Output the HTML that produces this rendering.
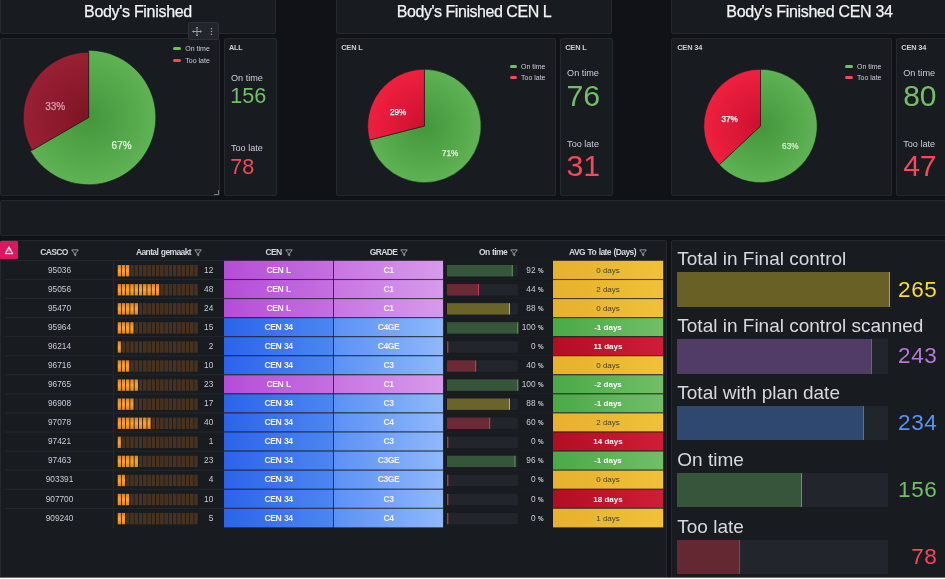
<!DOCTYPE html>
<html><head><meta charset="utf-8"><title>Body's Finished</title>
<style>
html,body{margin:0;padding:0}
body{width:945px;height:579px;overflow:hidden;background:#111217;position:relative;font-family:"Liberation Sans",sans-serif;color:#ccccdc}
.p{position:absolute;background:#181b1f;border:1px solid #25282e;box-sizing:border-box;border-radius:2px}
.a{position:absolute;white-space:nowrap}
.tt{position:absolute;left:0;right:0;text-align:center;color:#f4f4f6;font-size:16px;line-height:18px;letter-spacing:-0.3px;-webkit-text-stroke:0.25px #f4f4f6}
.pt{position:absolute;font-size:7.2px;color:#d0d1d8;font-weight:bold;letter-spacing:-0.2px}
.lg{position:absolute;font-size:7px;color:#ccccdc;white-space:nowrap}
.lg i{position:absolute;left:-12px;top:3px;width:8px;height:3px;border-radius:1px}
.sl{position:absolute;font-size:9.1px;color:#ccccdc;white-space:nowrap}
.sv{position:absolute;font-size:21px;white-space:nowrap;line-height:21px}
.th{position:absolute;top:245.5px;height:12px;font-size:8.5px;font-weight:bold;color:#d4d6de;text-align:center;line-height:12px;white-space:nowrap;letter-spacing:-0.6px;word-spacing:0.8px}
.row{position:absolute;left:5px;width:658px;height:19.1px}
.c{position:absolute;height:19px;line-height:19px;font-size:8.3px;text-align:center;color:#ccccdc;white-space:nowrap;box-sizing:border-box}
.bt{position:absolute;font-size:19px;color:#d8d9e0;white-space:nowrap;line-height:22px;left:677.3px}
.bv{position:absolute;font-size:22.5px;letter-spacing:0.6px;white-space:nowrap;line-height:24px;right:7.6px;text-align:right}
.trk{position:absolute;left:676.5px;width:211.4px;height:34.6px;background:#22252b}
.fill{position:absolute;left:0;top:0;height:34.6px;box-sizing:border-box}
</style></head><body>

<svg width="0" height="0" style="position:absolute"><defs><linearGradient id="lg" x1="0" y1="0" x2="0" y2="1"><stop offset="0" stop-color="#d9841a"/><stop offset="0.5" stop-color="#ffa530"/><stop offset="1" stop-color="#d9841a"/></linearGradient><pattern id="pl" patternUnits="userSpaceOnUse" width="4.27" height="11.6"><rect width="3.4" height="11.6" fill="url(#lg)"/></pattern><pattern id="pd" patternUnits="userSpaceOnUse" width="4.27" height="11.6"><rect width="3.4" height="11.6" fill="#48321f"/></pattern></defs></svg>
<div class="p" style="left:0;top:-8px;width:276px;height:42px"><div class="tt" style="top:9.6px">Body's Finished</div></div>
<div class="p" style="left:336px;top:-8px;width:276px;height:42px"><div class="tt" style="top:9.6px;letter-spacing:-0.46px">Body's Finished CEN L</div></div>
<div class="p" style="left:671px;top:-8px;width:280px;height:42px"><div class="tt" style="top:9.6px;right:3px">Body's Finished CEN 34</div></div>
<div class="p" style="left:0;top:38px;width:220px;height:158px"></div>
<div class="p" style="left:224px;top:38px;width:53px;height:158px"></div>
<div class="p" style="left:336px;top:38px;width:220px;height:158px"></div>
<div class="p" style="left:560px;top:38px;width:53px;height:158px"></div>
<div class="p" style="left:671px;top:38px;width:221px;height:158px"></div>
<div class="p" style="left:896px;top:38px;width:56px;height:158px"></div>
<div class="a" style="left:213.5px;top:190px;width:4px;height:4px;border-right:1px solid #7b7d86;border-bottom:1px solid #7b7d86"></div>
<div class="a" style="left:188px;top:22px;width:31px;height:18px;background:#22252b;border:1px solid #2e3138;box-sizing:border-box;border-radius:2px"></div>
<svg class="a" style="left:188px;top:22px" width="31" height="18" viewBox="0 0 31 18"><g stroke="#9a9ca6" stroke-width="1" fill="none"><path d="M4.5 9.5h9M9 5v9"/><path d="M7.8 6.2L9 5l1.2 1.2M7.8 12.8L9 14l1.2-1.2M5.7 8.3L4.5 9.5l1.2 1.2M12.3 8.3l1.2 1.2-1.2 1.2" stroke-width="0.8"/></g><g fill="#9a9ca6"><circle cx="23.5" cy="6.7" r="0.8"/><circle cx="23.5" cy="9.5" r="0.8"/><circle cx="23.5" cy="12.3" r="0.8"/></g></svg>
<svg class="a" style="left:0;top:0" width="945" height="200" viewBox="0 0 945 200"><defs><radialGradient id="g1" gradientUnits="userSpaceOnUse" cx="88.6" cy="117.5" r="67.2"><stop offset="0" stop-color="#43963a"/><stop offset="1" stop-color="#5fb354"/></radialGradient><radialGradient id="r1" gradientUnits="userSpaceOnUse" cx="88.6" cy="117.5" r="65.3"><stop offset="0" stop-color="#7d1424"/><stop offset="1" stop-color="#9a2034"/></radialGradient></defs><path d="M88.6 117.5 L88.6 50.3 A67.2 67.2 0 1 1 30.40 151.10 Z" fill="url(#g1)" stroke="#181b1f" stroke-width="0.6"/><path d="M88.6 117.5 L32.05 150.15 A65.3 65.3 0 0 1 88.6 52.2 Z" fill="url(#r1)" stroke="#181b1f" stroke-width="0.6"/><text x="55.2" y="109.8" fill="#d2a2ab" font-size="10" text-anchor="middle" stroke="#d2a2ab" stroke-width="0.25" font-family="Liberation Sans, sans-serif">33%</text><text x="121.6" y="148.6" fill="#e4f2e2" font-size="10" text-anchor="middle" stroke="#e4f2e2" stroke-width="0.25" font-family="Liberation Sans, sans-serif">67%</text><defs><radialGradient id="g2" gradientUnits="userSpaceOnUse" cx="424.4" cy="126" r="56.7"><stop offset="0" stop-color="#43963a"/><stop offset="1" stop-color="#5fb354"/></radialGradient><radialGradient id="r2" gradientUnits="userSpaceOnUse" cx="424.4" cy="126" r="56.7"><stop offset="0" stop-color="#cc1030"/><stop offset="1" stop-color="#f0203f"/></radialGradient></defs><path d="M424.4 126 L424.4 69.3 A56.7 56.7 0 1 1 369.46 140.00 Z" fill="url(#g2)" stroke="#181b1f" stroke-width="0.6"/><path d="M424.4 126 L369.46 140.00 A56.7 56.7 0 0 1 424.4 69.3 Z" fill="url(#r2)" stroke="#181b1f" stroke-width="0.6"/><text x="398.2" y="115.4" fill="#ffffff" font-size="8.2" text-anchor="middle" stroke="#ffffff" stroke-width="0.25" font-family="Liberation Sans, sans-serif">29%</text><text x="450.2" y="155.8" fill="#e4f2e2" font-size="8.2" text-anchor="middle" stroke="#e4f2e2" stroke-width="0.25" font-family="Liberation Sans, sans-serif">71%</text><defs><radialGradient id="g3" gradientUnits="userSpaceOnUse" cx="760.5" cy="126" r="56.7"><stop offset="0" stop-color="#43963a"/><stop offset="1" stop-color="#5fb354"/></radialGradient><radialGradient id="r3" gradientUnits="userSpaceOnUse" cx="760.5" cy="126" r="56.7"><stop offset="0" stop-color="#cc1030"/><stop offset="1" stop-color="#f0203f"/></radialGradient></defs><path d="M760.5 126 L760.5 69.3 A56.7 56.7 0 1 1 719.19 164.83 Z" fill="url(#g3)" stroke="#181b1f" stroke-width="0.6"/><path d="M760.5 126 L719.19 164.83 A56.7 56.7 0 0 1 760.5 69.3 Z" fill="url(#r3)" stroke="#181b1f" stroke-width="0.6"/><text x="729.7" y="122.4" fill="#ffffff" font-size="8.2" text-anchor="middle" stroke="#ffffff" stroke-width="0.25" font-family="Liberation Sans, sans-serif">37%</text><text x="790.3" y="148.8" fill="#d4ead0" font-size="8.2" text-anchor="middle" stroke="#d4ead0" stroke-width="0.25" font-family="Liberation Sans, sans-serif">63%</text></svg>
<div class="a" style="left:229px;top:44.31px;font-size:7.2px;line-height:7.2px;color:#d0d1d8;font-weight:bold;letter-spacing:-0.15px">ALL</div>
<div class="a" style="left:341.2px;top:44.04px;font-size:7.4px;line-height:7.4px;color:#d0d1d8;font-weight:bold;letter-spacing:-0.15px">CEN L</div>
<div class="a" style="left:565.2px;top:44.04px;font-size:7.4px;line-height:7.4px;color:#d0d1d8;font-weight:bold;letter-spacing:-0.15px">CEN L</div>
<div class="a" style="left:677.2px;top:44.04px;font-size:7.4px;line-height:7.4px;color:#d0d1d8;font-weight:bold;letter-spacing:-0.15px">CEN 34</div>
<div class="a" style="left:901.3px;top:44.04px;font-size:7.4px;line-height:7.4px;color:#d0d1d8;font-weight:bold;letter-spacing:-0.15px">CEN 34</div>
<div class="a" style="left:173.3px;top:47px;width:7.6px;height:3px;border-radius:1.5px;background:#73bf69"></div>
<div class="a" style="left:185.3px;top:45.27px;font-size:7px;line-height:7px;color:#ccccdc;">On time</div>
<div class="a" style="left:173.3px;top:59px;width:7.6px;height:3px;border-radius:1.5px;background:#f2495c"></div>
<div class="a" style="left:185.3px;top:56.97px;font-size:7px;line-height:7px;color:#ccccdc;">Too late</div>
<div class="a" style="left:509.6px;top:65px;width:7.6px;height:3px;border-radius:1.5px;background:#73bf69"></div>
<div class="a" style="left:521px;top:62.57px;font-size:7px;line-height:7px;color:#ccccdc;">On time</div>
<div class="a" style="left:509.6px;top:76px;width:7.6px;height:3px;border-radius:1.5px;background:#f2495c"></div>
<div class="a" style="left:521px;top:74.27px;font-size:7px;line-height:7px;color:#ccccdc;">Too late</div>
<div class="a" style="left:845.3px;top:65px;width:7.6px;height:3px;border-radius:1.5px;background:#73bf69"></div>
<div class="a" style="left:857px;top:62.57px;font-size:7px;line-height:7px;color:#ccccdc;">On time</div>
<div class="a" style="left:845.3px;top:76px;width:7.6px;height:3px;border-radius:1.5px;background:#f2495c"></div>
<div class="a" style="left:857px;top:74.27px;font-size:7px;line-height:7px;color:#ccccdc;">Too late</div>
<div class="a" style="left:231px;top:73.70px;font-size:9.1px;line-height:9.1px;color:#ccccdc;">On time</div>
<div class="a" style="left:230.3px;top:85.12px;font-size:21.6px;line-height:21.6px;color:#73bf69;">156</div>
<div class="a" style="left:231px;top:144.00px;font-size:9.1px;line-height:9.1px;color:#ccccdc;">Too late</div>
<div class="a" style="left:230.3px;top:155.72px;font-size:21.6px;line-height:21.6px;color:#f2495c;">78</div>
<div class="a" style="left:567.1px;top:69.10px;font-size:9.1px;line-height:9.1px;color:#ccccdc;">On time</div>
<div class="a" style="left:566.4px;top:80.55px;font-size:30.3px;line-height:30.3px;color:#73bf69;">76</div>
<div class="a" style="left:567.1px;top:140.00px;font-size:9.1px;line-height:9.1px;color:#ccccdc;">Too late</div>
<div class="a" style="left:566.4px;top:150.75px;font-size:30.3px;line-height:30.3px;color:#f2495c;">31</div>
<div class="a" style="left:903.2px;top:69.30px;font-size:9.1px;line-height:9.1px;color:#ccccdc;">On time</div>
<div class="a" style="left:903.2px;top:80.51px;font-size:30px;line-height:30px;color:#73bf69;">80</div>
<div class="a" style="left:903.2px;top:140.30px;font-size:9.1px;line-height:9.1px;color:#ccccdc;">Too late</div>
<div class="a" style="left:903.2px;top:150.80px;font-size:30px;line-height:30px;color:#f2495c;">47</div>
<div class="p" style="left:0;top:200px;width:951px;height:36px"></div>
<div class="p" style="left:0;top:240px;width:667px;height:345px"></div>
<div class="a" style="left:0;top:240.5px;width:17.6px;height:18px;background:#de1560;border-radius:1px"></div>
<svg class="a" style="left:0;top:240.5px" width="18" height="18" viewBox="0 0 18 18"><path d="M9 6L12.6 12.6H5.4Z" fill="none" stroke="#fbe3ec" stroke-width="1.3" stroke-linejoin="round"/><path d="M9 8.3v2.1M9 11.1v0.5" stroke="#fbe3ec" stroke-width="0.8"/></svg>
<div class="p" style="left:671px;top:240px;width:280px;height:345px"></div>
<div class="th" style="left:5px;width:109px">CASCO<svg width="8" height="8" viewBox="0 0 9 9" style="vertical-align:-2.1px;margin-left:3px"><path d="M0.8 1h7.4L5.3 4.6v3L3.7 6.8V4.6Z" fill="none" stroke="#b8b9c2" stroke-width="0.9" stroke-linejoin="round"/></svg></div>
<div class="th" style="left:114px;width:110px">Aantal gemaakt<svg width="8" height="8" viewBox="0 0 9 9" style="vertical-align:-2.1px;margin-left:3px"><path d="M0.8 1h7.4L5.3 4.6v3L3.7 6.8V4.6Z" fill="none" stroke="#b8b9c2" stroke-width="0.9" stroke-linejoin="round"/></svg></div>
<div class="th" style="left:224px;width:110px">CEN<svg width="8" height="8" viewBox="0 0 9 9" style="vertical-align:-2.1px;margin-left:3px"><path d="M0.8 1h7.4L5.3 4.6v3L3.7 6.8V4.6Z" fill="none" stroke="#b8b9c2" stroke-width="0.9" stroke-linejoin="round"/></svg></div>
<div class="th" style="left:334px;width:110px">GRADE<svg width="8" height="8" viewBox="0 0 9 9" style="vertical-align:-2.1px;margin-left:3px"><path d="M0.8 1h7.4L5.3 4.6v3L3.7 6.8V4.6Z" fill="none" stroke="#b8b9c2" stroke-width="0.9" stroke-linejoin="round"/></svg></div>
<div class="th" style="left:444px;width:109px">On time<svg width="8" height="8" viewBox="0 0 9 9" style="vertical-align:-2.1px;margin-left:3px"><path d="M0.8 1h7.4L5.3 4.6v3L3.7 6.8V4.6Z" fill="none" stroke="#b8b9c2" stroke-width="0.9" stroke-linejoin="round"/></svg></div>
<div class="th" style="left:553px;width:110px">AVG To late (Days)<svg width="8" height="8" viewBox="0 0 9 9" style="vertical-align:-2.1px;margin-left:3px"><path d="M0.8 1h7.4L5.3 4.6v3L3.7 6.8V4.6Z" fill="none" stroke="#b8b9c2" stroke-width="0.9" stroke-linejoin="round"/></svg></div>
<div class="a" style="left:113px;top:260px;width:1px;height:267.5px;background:#25282e"></div>
<svg class="a" style="left:0;top:0" width="945" height="579" viewBox="0 0 945 579"><defs><linearGradient id="cL" x1="-0.05" y1="0" x2="1.05" y2="0"><stop offset="0" stop-color="#b44cd6"/><stop offset="1" stop-color="#c670e2"/></linearGradient><linearGradient id="c34" x1="-0.05" y1="0" x2="1.05" y2="0"><stop offset="0" stop-color="#2a62ea"/><stop offset="1" stop-color="#4e88f2"/></linearGradient><linearGradient id="dL" x1="-0.05" y1="0" x2="1.05" y2="0"><stop offset="0" stop-color="#c872e2"/><stop offset="1" stop-color="#d79cec"/></linearGradient><linearGradient id="d34" x1="-0.05" y1="0" x2="1.05" y2="0"><stop offset="0" stop-color="#588ff6"/><stop offset="1" stop-color="#92bafc"/></linearGradient><linearGradient id="gy" x1="-0.05" y1="0" x2="1.05" y2="0"><stop offset="0" stop-color="#e6b02c"/><stop offset="1" stop-color="#f0c23a"/></linearGradient><linearGradient id="gg" x1="-0.05" y1="0" x2="1.05" y2="0"><stop offset="0" stop-color="#48a844"/><stop offset="1" stop-color="#73bf69"/></linearGradient><linearGradient id="gr" x1="-0.05" y1="0" x2="1.05" y2="0"><stop offset="0" stop-color="#b00d22"/><stop offset="1" stop-color="#d01f38"/></linearGradient></defs><rect x="5" y="259.90" width="658" height="1" fill="#25282e"/><g transform="translate(117.5 265.00)"><rect width="11.94" height="11.4" fill="url(#pl)"/><rect x="12.81" width="67.45" height="11.4" fill="url(#pd)"/></g><rect x="224" y="260.40" width="109.1" height="19.07" fill="url(#cL)"/><rect x="333.9" y="260.40" width="109.2" height="19.07" fill="url(#dL)"/><rect x="447" y="265.00" width="70.8" height="11.4" fill="#22252b"/><rect x="447" y="265.00" width="64.68" height="11.4" fill="#37553a"/><rect x="511.68" y="265.00" width="1" height="11.4" fill="#68ad5f"/><rect x="553" y="260.40" width="110.2" height="19.07" fill="url(#gy)"/><rect x="224" y="260.00" width="439.2" height="1" fill="#16181d" opacity="0.6"/><rect x="5" y="278.97" width="658" height="1" fill="#25282e"/><g transform="translate(117.5 284.07)"><rect width="41.83" height="11.4" fill="url(#pl)"/><rect x="42.70" width="37.56" height="11.4" fill="url(#pd)"/></g><rect x="224" y="279.47" width="109.1" height="19.07" fill="url(#cL)"/><rect x="333.9" y="279.47" width="109.2" height="19.07" fill="url(#dL)"/><rect x="447" y="284.07" width="70.8" height="11.4" fill="#22252b"/><rect x="447" y="284.07" width="30.93" height="11.4" fill="#6b2a36"/><rect x="477.93" y="284.07" width="1" height="11.4" fill="#d8404f"/><rect x="553" y="279.47" width="110.2" height="19.07" fill="url(#gy)"/><rect x="224" y="279.07" width="439.2" height="1" fill="#16181d" opacity="0.6"/><rect x="5" y="298.04" width="658" height="1" fill="#25282e"/><g transform="translate(117.5 303.14)"><rect width="20.48" height="11.4" fill="url(#pl)"/><rect x="21.35" width="58.91" height="11.4" fill="url(#pd)"/></g><rect x="224" y="298.54" width="109.1" height="19.07" fill="url(#cL)"/><rect x="333.9" y="298.54" width="109.2" height="19.07" fill="url(#dL)"/><rect x="447" y="303.14" width="70.8" height="11.4" fill="#22252b"/><rect x="447" y="303.14" width="61.86" height="11.4" fill="#6b6428"/><rect x="508.86" y="303.14" width="1" height="11.4" fill="#d4be34"/><rect x="553" y="298.54" width="110.2" height="19.07" fill="url(#gy)"/><rect x="224" y="298.14" width="439.2" height="1" fill="#16181d" opacity="0.6"/><rect x="5" y="317.11" width="658" height="1" fill="#25282e"/><g transform="translate(117.5 322.21)"><rect width="16.21" height="11.4" fill="url(#pl)"/><rect x="17.08" width="63.18" height="11.4" fill="url(#pd)"/></g><rect x="224" y="317.61" width="109.1" height="19.07" fill="url(#c34)"/><rect x="333.9" y="317.61" width="109.2" height="19.07" fill="url(#d34)"/><rect x="447" y="322.21" width="70.8" height="11.4" fill="#22252b"/><rect x="447" y="322.21" width="70.30" height="11.4" fill="#37553a"/><rect x="517.30" y="322.21" width="1" height="11.4" fill="#68ad5f"/><rect x="553" y="317.61" width="110.2" height="19.07" fill="url(#gg)"/><rect x="224" y="317.21" width="439.2" height="1" fill="#16181d" opacity="0.6"/><rect x="5" y="336.18" width="658" height="1" fill="#25282e"/><g transform="translate(117.5 341.28)"><rect width="3.40" height="11.4" fill="url(#pl)"/><rect x="4.27" width="75.99" height="11.4" fill="url(#pd)"/></g><rect x="224" y="336.68" width="109.1" height="19.07" fill="url(#c34)"/><rect x="333.9" y="336.68" width="109.2" height="19.07" fill="url(#d34)"/><rect x="447" y="341.28" width="70.8" height="11.4" fill="#22252b"/><rect x="447" y="341.28" width="0.30" height="11.4" fill="#6b2a36"/><rect x="447.30" y="341.28" width="1" height="11.4" fill="#d8404f"/><rect x="553" y="336.68" width="110.2" height="19.07" fill="url(#gr)"/><rect x="224" y="336.28" width="439.2" height="1" fill="#16181d" opacity="0.6"/><rect x="5" y="355.25" width="658" height="1" fill="#25282e"/><g transform="translate(117.5 360.35)"><rect width="11.94" height="11.4" fill="url(#pl)"/><rect x="12.81" width="67.45" height="11.4" fill="url(#pd)"/></g><rect x="224" y="355.75" width="109.1" height="19.07" fill="url(#c34)"/><rect x="333.9" y="355.75" width="109.2" height="19.07" fill="url(#d34)"/><rect x="447" y="360.35" width="70.8" height="11.4" fill="#22252b"/><rect x="447" y="360.35" width="28.12" height="11.4" fill="#6b2a36"/><rect x="475.12" y="360.35" width="1" height="11.4" fill="#d8404f"/><rect x="553" y="355.75" width="110.2" height="19.07" fill="url(#gy)"/><rect x="224" y="355.35" width="439.2" height="1" fill="#16181d" opacity="0.6"/><rect x="5" y="374.32" width="658" height="1" fill="#25282e"/><g transform="translate(117.5 379.42)"><rect width="20.48" height="11.4" fill="url(#pl)"/><rect x="21.35" width="58.91" height="11.4" fill="url(#pd)"/></g><rect x="224" y="374.82" width="109.1" height="19.07" fill="url(#cL)"/><rect x="333.9" y="374.82" width="109.2" height="19.07" fill="url(#dL)"/><rect x="447" y="379.42" width="70.8" height="11.4" fill="#22252b"/><rect x="447" y="379.42" width="70.30" height="11.4" fill="#37553a"/><rect x="517.30" y="379.42" width="1" height="11.4" fill="#68ad5f"/><rect x="553" y="374.82" width="110.2" height="19.07" fill="url(#gg)"/><rect x="224" y="374.42" width="439.2" height="1" fill="#16181d" opacity="0.6"/><rect x="5" y="393.39" width="658" height="1" fill="#25282e"/><g transform="translate(117.5 398.49)"><rect width="16.21" height="11.4" fill="url(#pl)"/><rect x="17.08" width="63.18" height="11.4" fill="url(#pd)"/></g><rect x="224" y="393.89" width="109.1" height="19.07" fill="url(#c34)"/><rect x="333.9" y="393.89" width="109.2" height="19.07" fill="url(#d34)"/><rect x="447" y="398.49" width="70.8" height="11.4" fill="#22252b"/><rect x="447" y="398.49" width="61.86" height="11.4" fill="#6b6428"/><rect x="508.86" y="398.49" width="1" height="11.4" fill="#d4be34"/><rect x="553" y="393.89" width="110.2" height="19.07" fill="url(#gg)"/><rect x="224" y="393.49" width="439.2" height="1" fill="#16181d" opacity="0.6"/><rect x="5" y="412.46" width="658" height="1" fill="#25282e"/><g transform="translate(117.5 417.56)"><rect width="33.29" height="11.4" fill="url(#pl)"/><rect x="34.16" width="46.10" height="11.4" fill="url(#pd)"/></g><rect x="224" y="412.96" width="109.1" height="19.07" fill="url(#c34)"/><rect x="333.9" y="412.96" width="109.2" height="19.07" fill="url(#d34)"/><rect x="447" y="417.56" width="70.8" height="11.4" fill="#22252b"/><rect x="447" y="417.56" width="42.18" height="11.4" fill="#6b2a36"/><rect x="489.18" y="417.56" width="1" height="11.4" fill="#d8404f"/><rect x="553" y="412.96" width="110.2" height="19.07" fill="url(#gy)"/><rect x="224" y="412.56" width="439.2" height="1" fill="#16181d" opacity="0.6"/><rect x="5" y="431.53" width="658" height="1" fill="#25282e"/><g transform="translate(117.5 436.63)"><rect width="3.40" height="11.4" fill="url(#pl)"/><rect x="4.27" width="75.99" height="11.4" fill="url(#pd)"/></g><rect x="224" y="432.03" width="109.1" height="19.07" fill="url(#c34)"/><rect x="333.9" y="432.03" width="109.2" height="19.07" fill="url(#d34)"/><rect x="447" y="436.63" width="70.8" height="11.4" fill="#22252b"/><rect x="447" y="436.63" width="0.30" height="11.4" fill="#6b2a36"/><rect x="447.30" y="436.63" width="1" height="11.4" fill="#d8404f"/><rect x="553" y="432.03" width="110.2" height="19.07" fill="url(#gr)"/><rect x="224" y="431.63" width="439.2" height="1" fill="#16181d" opacity="0.6"/><rect x="5" y="450.60" width="658" height="1" fill="#25282e"/><g transform="translate(117.5 455.70)"><rect width="20.48" height="11.4" fill="url(#pl)"/><rect x="21.35" width="58.91" height="11.4" fill="url(#pd)"/></g><rect x="224" y="451.10" width="109.1" height="19.07" fill="url(#c34)"/><rect x="333.9" y="451.10" width="109.2" height="19.07" fill="url(#d34)"/><rect x="447" y="455.70" width="70.8" height="11.4" fill="#22252b"/><rect x="447" y="455.70" width="67.49" height="11.4" fill="#37553a"/><rect x="514.49" y="455.70" width="1" height="11.4" fill="#68ad5f"/><rect x="553" y="451.10" width="110.2" height="19.07" fill="url(#gg)"/><rect x="224" y="450.70" width="439.2" height="1" fill="#16181d" opacity="0.6"/><rect x="5" y="469.67" width="658" height="1" fill="#25282e"/><g transform="translate(117.5 474.77)"><rect width="7.67" height="11.4" fill="url(#pl)"/><rect x="8.54" width="71.72" height="11.4" fill="url(#pd)"/></g><rect x="224" y="470.17" width="109.1" height="19.07" fill="url(#c34)"/><rect x="333.9" y="470.17" width="109.2" height="19.07" fill="url(#d34)"/><rect x="447" y="474.77" width="70.8" height="11.4" fill="#22252b"/><rect x="447" y="474.77" width="0.30" height="11.4" fill="#6b2a36"/><rect x="447.30" y="474.77" width="1" height="11.4" fill="#d8404f"/><rect x="553" y="470.17" width="110.2" height="19.07" fill="url(#gy)"/><rect x="224" y="469.77" width="439.2" height="1" fill="#16181d" opacity="0.6"/><rect x="5" y="488.74" width="658" height="1" fill="#25282e"/><g transform="translate(117.5 493.84)"><rect width="11.94" height="11.4" fill="url(#pl)"/><rect x="12.81" width="67.45" height="11.4" fill="url(#pd)"/></g><rect x="224" y="489.24" width="109.1" height="19.07" fill="url(#c34)"/><rect x="333.9" y="489.24" width="109.2" height="19.07" fill="url(#d34)"/><rect x="447" y="493.84" width="70.8" height="11.4" fill="#22252b"/><rect x="447" y="493.84" width="0.30" height="11.4" fill="#6b2a36"/><rect x="447.30" y="493.84" width="1" height="11.4" fill="#d8404f"/><rect x="553" y="489.24" width="110.2" height="19.07" fill="url(#gr)"/><rect x="224" y="488.84" width="439.2" height="1" fill="#16181d" opacity="0.6"/><rect x="5" y="507.81" width="658" height="1" fill="#25282e"/><g transform="translate(117.5 512.91)"><rect width="7.67" height="11.4" fill="url(#pl)"/><rect x="8.54" width="71.72" height="11.4" fill="url(#pd)"/></g><rect x="224" y="508.31" width="109.1" height="19.07" fill="url(#c34)"/><rect x="333.9" y="508.31" width="109.2" height="19.07" fill="url(#d34)"/><rect x="447" y="512.91" width="70.8" height="11.4" fill="#22252b"/><rect x="447" y="512.91" width="0.30" height="11.4" fill="#6b2a36"/><rect x="447.30" y="512.91" width="1" height="11.4" fill="#d8404f"/><rect x="553" y="508.31" width="110.2" height="19.07" fill="url(#gy)"/><rect x="224" y="507.91" width="439.2" height="1" fill="#16181d" opacity="0.6"/></svg>
<div class="c" style="top:260.70px;left:5px;width:109px">95036</div><div class="c" style="top:260.70px;left:185px;width:28.3px;text-align:right">12</div><div class="c" style="top:260.70px;left:224px;width:109.2px;color:#f6f0fa;font-weight:bold;font-size:8.6px;letter-spacing:-0.5px;word-spacing:1px">CEN L</div><div class="c" style="top:260.70px;left:333.8px;width:109.4px;color:#f6f0fa;font-weight:bold;font-size:8.6px;letter-spacing:-0.5px;word-spacing:1px">C1</div><div class="c" style="top:260.70px;left:515px;width:28.5px;text-align:right">92 <span style="font-size:6.3px;font-weight:bold">%</span></div><div class="c" style="top:260.70px;left:553px;width:110px;color:#4a4220;font-weight:normal;font-size:8px">0 days</div><div class="c" style="top:279.77px;left:5px;width:109px">95056</div><div class="c" style="top:279.77px;left:185px;width:28.3px;text-align:right">48</div><div class="c" style="top:279.77px;left:224px;width:109.2px;color:#f6f0fa;font-weight:bold;font-size:8.6px;letter-spacing:-0.5px;word-spacing:1px">CEN L</div><div class="c" style="top:279.77px;left:333.8px;width:109.4px;color:#f6f0fa;font-weight:bold;font-size:8.6px;letter-spacing:-0.5px;word-spacing:1px">C1</div><div class="c" style="top:279.77px;left:515px;width:28.5px;text-align:right">44 <span style="font-size:6.3px;font-weight:bold">%</span></div><div class="c" style="top:279.77px;left:553px;width:110px;color:#4a4220;font-weight:normal;font-size:8px">2 days</div><div class="c" style="top:298.84px;left:5px;width:109px">95470</div><div class="c" style="top:298.84px;left:185px;width:28.3px;text-align:right">24</div><div class="c" style="top:298.84px;left:224px;width:109.2px;color:#f6f0fa;font-weight:bold;font-size:8.6px;letter-spacing:-0.5px;word-spacing:1px">CEN L</div><div class="c" style="top:298.84px;left:333.8px;width:109.4px;color:#f6f0fa;font-weight:bold;font-size:8.6px;letter-spacing:-0.5px;word-spacing:1px">C1</div><div class="c" style="top:298.84px;left:515px;width:28.5px;text-align:right">88 <span style="font-size:6.3px;font-weight:bold">%</span></div><div class="c" style="top:298.84px;left:553px;width:110px;color:#4a4220;font-weight:normal;font-size:8px">0 days</div><div class="c" style="top:317.91px;left:5px;width:109px">95964</div><div class="c" style="top:317.91px;left:185px;width:28.3px;text-align:right">15</div><div class="c" style="top:317.91px;left:224px;width:109.2px;color:#f6f0fa;font-weight:bold;font-size:8.6px;letter-spacing:-0.5px;word-spacing:1px">CEN 34</div><div class="c" style="top:317.91px;left:333.8px;width:109.4px;color:#f6f0fa;font-weight:bold;font-size:8.6px;letter-spacing:-0.5px;word-spacing:1px">C4GE</div><div class="c" style="top:317.91px;left:515px;width:28.5px;text-align:right">100 <span style="font-size:6.3px;font-weight:bold">%</span></div><div class="c" style="top:317.91px;left:553px;width:110px;color:#ffffff;font-weight:bold;font-size:8px">-1 days</div><div class="c" style="top:336.98px;left:5px;width:109px">96214</div><div class="c" style="top:336.98px;left:185px;width:28.3px;text-align:right">2</div><div class="c" style="top:336.98px;left:224px;width:109.2px;color:#f6f0fa;font-weight:bold;font-size:8.6px;letter-spacing:-0.5px;word-spacing:1px">CEN 34</div><div class="c" style="top:336.98px;left:333.8px;width:109.4px;color:#f6f0fa;font-weight:bold;font-size:8.6px;letter-spacing:-0.5px;word-spacing:1px">C4GE</div><div class="c" style="top:336.98px;left:515px;width:28.5px;text-align:right">0 <span style="font-size:6.3px;font-weight:bold">%</span></div><div class="c" style="top:336.98px;left:553px;width:110px;color:#ffffff;font-weight:bold;font-size:8px">11 days</div><div class="c" style="top:356.05px;left:5px;width:109px">96716</div><div class="c" style="top:356.05px;left:185px;width:28.3px;text-align:right">10</div><div class="c" style="top:356.05px;left:224px;width:109.2px;color:#f6f0fa;font-weight:bold;font-size:8.6px;letter-spacing:-0.5px;word-spacing:1px">CEN 34</div><div class="c" style="top:356.05px;left:333.8px;width:109.4px;color:#f6f0fa;font-weight:bold;font-size:8.6px;letter-spacing:-0.5px;word-spacing:1px">C3</div><div class="c" style="top:356.05px;left:515px;width:28.5px;text-align:right">40 <span style="font-size:6.3px;font-weight:bold">%</span></div><div class="c" style="top:356.05px;left:553px;width:110px;color:#4a4220;font-weight:normal;font-size:8px">0 days</div><div class="c" style="top:375.12px;left:5px;width:109px">96765</div><div class="c" style="top:375.12px;left:185px;width:28.3px;text-align:right">23</div><div class="c" style="top:375.12px;left:224px;width:109.2px;color:#f6f0fa;font-weight:bold;font-size:8.6px;letter-spacing:-0.5px;word-spacing:1px">CEN L</div><div class="c" style="top:375.12px;left:333.8px;width:109.4px;color:#f6f0fa;font-weight:bold;font-size:8.6px;letter-spacing:-0.5px;word-spacing:1px">C1</div><div class="c" style="top:375.12px;left:515px;width:28.5px;text-align:right">100 <span style="font-size:6.3px;font-weight:bold">%</span></div><div class="c" style="top:375.12px;left:553px;width:110px;color:#ffffff;font-weight:bold;font-size:8px">-2 days</div><div class="c" style="top:394.19px;left:5px;width:109px">96908</div><div class="c" style="top:394.19px;left:185px;width:28.3px;text-align:right">17</div><div class="c" style="top:394.19px;left:224px;width:109.2px;color:#f6f0fa;font-weight:bold;font-size:8.6px;letter-spacing:-0.5px;word-spacing:1px">CEN 34</div><div class="c" style="top:394.19px;left:333.8px;width:109.4px;color:#f6f0fa;font-weight:bold;font-size:8.6px;letter-spacing:-0.5px;word-spacing:1px">C3</div><div class="c" style="top:394.19px;left:515px;width:28.5px;text-align:right">88 <span style="font-size:6.3px;font-weight:bold">%</span></div><div class="c" style="top:394.19px;left:553px;width:110px;color:#ffffff;font-weight:bold;font-size:8px">-1 days</div><div class="c" style="top:413.26px;left:5px;width:109px">97078</div><div class="c" style="top:413.26px;left:185px;width:28.3px;text-align:right">40</div><div class="c" style="top:413.26px;left:224px;width:109.2px;color:#f6f0fa;font-weight:bold;font-size:8.6px;letter-spacing:-0.5px;word-spacing:1px">CEN 34</div><div class="c" style="top:413.26px;left:333.8px;width:109.4px;color:#f6f0fa;font-weight:bold;font-size:8.6px;letter-spacing:-0.5px;word-spacing:1px">C4</div><div class="c" style="top:413.26px;left:515px;width:28.5px;text-align:right">60 <span style="font-size:6.3px;font-weight:bold">%</span></div><div class="c" style="top:413.26px;left:553px;width:110px;color:#4a4220;font-weight:normal;font-size:8px">2 days</div><div class="c" style="top:432.33px;left:5px;width:109px">97421</div><div class="c" style="top:432.33px;left:185px;width:28.3px;text-align:right">1</div><div class="c" style="top:432.33px;left:224px;width:109.2px;color:#f6f0fa;font-weight:bold;font-size:8.6px;letter-spacing:-0.5px;word-spacing:1px">CEN 34</div><div class="c" style="top:432.33px;left:333.8px;width:109.4px;color:#f6f0fa;font-weight:bold;font-size:8.6px;letter-spacing:-0.5px;word-spacing:1px">C3</div><div class="c" style="top:432.33px;left:515px;width:28.5px;text-align:right">0 <span style="font-size:6.3px;font-weight:bold">%</span></div><div class="c" style="top:432.33px;left:553px;width:110px;color:#ffffff;font-weight:bold;font-size:8px">14 days</div><div class="c" style="top:451.40px;left:5px;width:109px">97463</div><div class="c" style="top:451.40px;left:185px;width:28.3px;text-align:right">23</div><div class="c" style="top:451.40px;left:224px;width:109.2px;color:#f6f0fa;font-weight:bold;font-size:8.6px;letter-spacing:-0.5px;word-spacing:1px">CEN 34</div><div class="c" style="top:451.40px;left:333.8px;width:109.4px;color:#f6f0fa;font-weight:bold;font-size:8.6px;letter-spacing:-0.5px;word-spacing:1px">C3GE</div><div class="c" style="top:451.40px;left:515px;width:28.5px;text-align:right">96 <span style="font-size:6.3px;font-weight:bold">%</span></div><div class="c" style="top:451.40px;left:553px;width:110px;color:#ffffff;font-weight:bold;font-size:8px">-1 days</div><div class="c" style="top:470.47px;left:5px;width:109px">903391</div><div class="c" style="top:470.47px;left:185px;width:28.3px;text-align:right">4</div><div class="c" style="top:470.47px;left:224px;width:109.2px;color:#f6f0fa;font-weight:bold;font-size:8.6px;letter-spacing:-0.5px;word-spacing:1px">CEN 34</div><div class="c" style="top:470.47px;left:333.8px;width:109.4px;color:#f6f0fa;font-weight:bold;font-size:8.6px;letter-spacing:-0.5px;word-spacing:1px">C3GE</div><div class="c" style="top:470.47px;left:515px;width:28.5px;text-align:right">0 <span style="font-size:6.3px;font-weight:bold">%</span></div><div class="c" style="top:470.47px;left:553px;width:110px;color:#4a4220;font-weight:normal;font-size:8px">0 days</div><div class="c" style="top:489.54px;left:5px;width:109px">907700</div><div class="c" style="top:489.54px;left:185px;width:28.3px;text-align:right">10</div><div class="c" style="top:489.54px;left:224px;width:109.2px;color:#f6f0fa;font-weight:bold;font-size:8.6px;letter-spacing:-0.5px;word-spacing:1px">CEN 34</div><div class="c" style="top:489.54px;left:333.8px;width:109.4px;color:#f6f0fa;font-weight:bold;font-size:8.6px;letter-spacing:-0.5px;word-spacing:1px">C3</div><div class="c" style="top:489.54px;left:515px;width:28.5px;text-align:right">0 <span style="font-size:6.3px;font-weight:bold">%</span></div><div class="c" style="top:489.54px;left:553px;width:110px;color:#ffffff;font-weight:bold;font-size:8px">18 days</div><div class="c" style="top:508.61px;left:5px;width:109px">909240</div><div class="c" style="top:508.61px;left:185px;width:28.3px;text-align:right">5</div><div class="c" style="top:508.61px;left:224px;width:109.2px;color:#f6f0fa;font-weight:bold;font-size:8.6px;letter-spacing:-0.5px;word-spacing:1px">CEN 34</div><div class="c" style="top:508.61px;left:333.8px;width:109.4px;color:#f6f0fa;font-weight:bold;font-size:8.6px;letter-spacing:-0.5px;word-spacing:1px">C4</div><div class="c" style="top:508.61px;left:515px;width:28.5px;text-align:right">0 <span style="font-size:6.3px;font-weight:bold">%</span></div><div class="c" style="top:508.61px;left:553px;width:110px;color:#4a4220;font-weight:normal;font-size:8px">1 days</div>
<div class="bt" style="top:248.40px">Total in Final control</div>
<div class="trk" style="top:272.20px"><div class="fill" style="width:213.3px;background:#686024;border-right:1px solid #b5a63a"></div></div>
<div class="bv" style="top:277.60px;color:#fade2a">265</div>
<div class="bt" style="top:315.25px">Total in Final control scanned</div>
<div class="trk" style="top:339.05px"><div class="fill" style="width:195.0px;background:#503c64;border-right:1px solid #7a5696"></div></div>
<div class="bv" style="top:344.45px;color:#b877d9">243</div>
<div class="bt" style="top:382.10px">Total with plan date</div>
<div class="trk" style="top:405.90px"><div class="fill" style="width:187.8px;background:#2e4870;border-right:1px solid #4a72b8"></div></div>
<div class="bv" style="top:411.30px;color:#5794f2">234</div>
<div class="bt" style="top:448.95px">On time</div>
<div class="trk" style="top:472.75px"><div class="fill" style="width:125.6px;background:#37553a;border-right:1px solid #5f9c58"></div></div>
<div class="bv" style="top:478.15px;color:#73bf69">156</div>
<div class="bt" style="top:515.80px">Too late</div>
<div class="trk" style="top:539.60px"><div class="fill" style="width:63.4px;background:#642832;border-right:1px solid #a03848"></div></div>
<div class="bv" style="top:545.00px;color:#f2495c">78</div>
<div class="a" style="left:0;top:577px;width:945px;height:1px;background:#fff;opacity:.35"></div><div class="a" style="left:0;top:578px;width:945px;height:1px;background:#fff"></div>
</body></html>
